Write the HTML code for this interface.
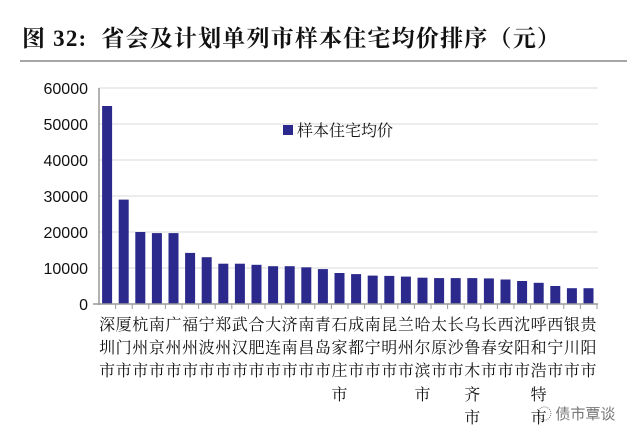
<!DOCTYPE html><html><head><meta charset="utf-8"><style>body{margin:0;background:#fff;position:relative;width:640px;height:441px;overflow:hidden}svg{display:block;position:absolute;left:0;top:0}
.c{position:absolute;top:312px;width:17px;font-family:"Noto Serif CJK SC",serif;font-size:16px;line-height:23.2px;text-align:center;color:#111;word-break:break-all}</style></head><body>
<svg width="640" height="441" xmlns="http://www.w3.org/2000/svg">
<text x="22" y="46" font-family="Liberation Serif,'Noto Serif CJK SC',serif" font-size="23" font-weight="bold" fill="#111" letter-spacing="1.2" xml:space="preserve">图 32:  省会及计划单列市样本住宅均价排序（元）</text>
<line x1="20" y1="61" x2="627" y2="61" stroke="#888" stroke-width="1.5"/>
<g stroke="#d8d8d8" stroke-width="1">
<line x1="99" y1="88" x2="598" y2="88"/><line x1="99" y1="124" x2="598" y2="124"/><line x1="99" y1="160" x2="598" y2="160"/><line x1="99" y1="196" x2="598" y2="196"/><line x1="99" y1="232" x2="598" y2="232"/><line x1="99" y1="268" x2="598" y2="268"/>
</g>
<g font-family="Liberation Sans,sans-serif" font-size="16" fill="#111" text-anchor="end">
<text x="88" y="94">60000</text><text x="88" y="130">50000</text><text x="88" y="166">40000</text><text x="88" y="202">30000</text><text x="88" y="238">20000</text><text x="88" y="274">10000</text><text x="88" y="310">0</text>
</g>
<g fill="#2b2a8c">
<rect x="102.1" y="106" width="10" height="198"/>
<rect x="118.7" y="199.6" width="10" height="104.4"/>
<rect x="135.3" y="232" width="10" height="72"/>
<rect x="151.9" y="233.1" width="10" height="70.9"/>
<rect x="168.5" y="233.1" width="10" height="70.9"/>
<rect x="185.1" y="252.9" width="10" height="51.1"/>
<rect x="201.7" y="257.2" width="10" height="46.8"/>
<rect x="218.3" y="263.7" width="10" height="40.3"/>
<rect x="234.9" y="263.7" width="10" height="40.3"/>
<rect x="251.5" y="264.8" width="10" height="39.2"/>
<rect x="268.1" y="266.2" width="10" height="37.8"/>
<rect x="284.7" y="266.2" width="10" height="37.8"/>
<rect x="301.3" y="267.3" width="10" height="36.7"/>
<rect x="317.9" y="269.1" width="10" height="34.9"/>
<rect x="334.5" y="273" width="10" height="31"/>
<rect x="351.1" y="274.1" width="10" height="29.9"/>
<rect x="367.7" y="275.6" width="10" height="28.4"/>
<rect x="384.3" y="275.9" width="10" height="28.1"/>
<rect x="400.9" y="276.6" width="10" height="27.4"/>
<rect x="417.5" y="277.7" width="10" height="26.3"/>
<rect x="434.1" y="278.1" width="10" height="25.9"/>
<rect x="450.7" y="278.1" width="10" height="25.9"/>
<rect x="467.3" y="278.1" width="10" height="25.9"/>
<rect x="483.9" y="278.4" width="10" height="25.6"/>
<rect x="500.5" y="279.5" width="10" height="24.5"/>
<rect x="517.1" y="281" width="10" height="23"/>
<rect x="533.7" y="282.8" width="10" height="21.2"/>
<rect x="550.3" y="286" width="10" height="18"/>
<rect x="566.9" y="288.2" width="10" height="15.8"/>
<rect x="583.5" y="288.2" width="10" height="15.8"/>
</g>
<line x1="99" y1="88" x2="99" y2="305" stroke="#999" stroke-width="1.5"/>
<line x1="93" y1="304" x2="598" y2="304" stroke="#999" stroke-width="1.5"/>
<path stroke="#999" d="M115.6 304v5M132.2 304v5M148.8 304v5M165.4 304v5M182 304v5M198.6 304v5M215.2 304v5M231.8 304v5M248.4 304v5M265 304v5M281.6 304v5M298.2 304v5M314.8 304v5M331.4 304v5M348 304v5M364.6 304v5M381.2 304v5M397.8 304v5M414.4 304v5M431 304v5M447.6 304v5M464.2 304v5M480.8 304v5M497.4 304v5M514 304v5M530.6 304v5M547.2 304v5M563.8 304v5M580.4 304v5M597 304v5"/>
<rect x="283" y="125" width="10" height="10" fill="#2b2a8c"/>
<text x="297" y="136" font-family="'Noto Serif CJK SC',serif" font-size="16" fill="#111">样本住宅均价</text>
<text x="537" y="419" font-family="'Noto Sans CJK SC',sans-serif" font-size="15" fill="#777">◌ 债市覃谈</text>
</svg>
<div class="c" style="left:98.6px">深圳市</div>
<div class="c" style="left:115.2px">厦门市</div>
<div class="c" style="left:131.8px">杭州市</div>
<div class="c" style="left:148.4px">南京市</div>
<div class="c" style="left:165px">广州市</div>
<div class="c" style="left:181.6px">福州市</div>
<div class="c" style="left:198.2px">宁波市</div>
<div class="c" style="left:214.8px">郑州市</div>
<div class="c" style="left:231.4px">武汉市</div>
<div class="c" style="left:248px">合肥市</div>
<div class="c" style="left:264.6px">大连市</div>
<div class="c" style="left:281.2px">济南市</div>
<div class="c" style="left:297.8px">南昌市</div>
<div class="c" style="left:314.4px">青岛市</div>
<div class="c" style="left:331px">石家庄市</div>
<div class="c" style="left:347.6px">成都市</div>
<div class="c" style="left:364.2px">南宁市</div>
<div class="c" style="left:380.8px">昆明市</div>
<div class="c" style="left:397.4px">兰州市</div>
<div class="c" style="left:414px">哈尔滨市</div>
<div class="c" style="left:430.6px">太原市</div>
<div class="c" style="left:447.2px">长沙市</div>
<div class="c" style="left:463.8px">乌鲁木齐市</div>
<div class="c" style="left:480.4px">长春市</div>
<div class="c" style="left:497px">西安市</div>
<div class="c" style="left:513.6px">沈阳市</div>
<div class="c" style="left:530.2px">呼和浩特市</div>
<div class="c" style="left:546.8px">西宁市</div>
<div class="c" style="left:563.4px">银川市</div>
<div class="c" style="left:580px">贵阳市</div>
</body></html>
